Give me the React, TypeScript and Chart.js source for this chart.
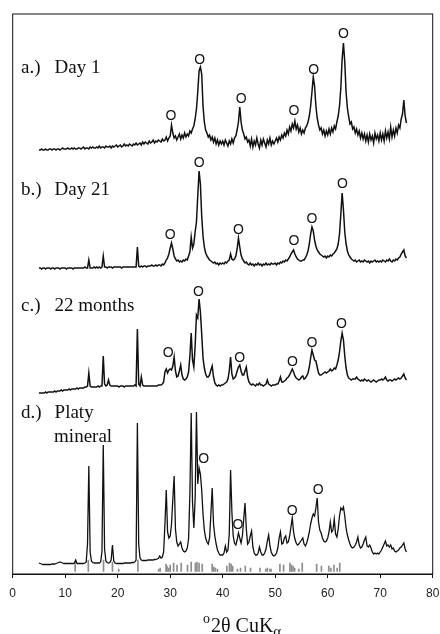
import React, { useEffect, useRef } from 'react';
import { Chart, registerables } from 'chart.js';

Chart.register(...registerables);

// 2θ sampling positions (degrees), 0.25° steps
const twoTheta = [
  5, 5.25, 5.5, 5.75, 6, 6.25, 6.5, 6.75, 7, 7.25, 7.5, 7.75, 8, 8.25, 8.5, 8.75, 9, 9.25, 9.5, 9.75,
  10, 10.25, 10.5, 10.75, 11, 11.25, 11.5, 11.75, 12, 12.25, 12.5, 12.75, 13, 13.25, 13.5, 13.75, 14, 14.25, 14.5, 14.75,
  15, 15.25, 15.5, 15.75, 16, 16.25, 16.5, 16.75, 17, 17.25, 17.5, 17.75, 18, 18.25, 18.5, 18.75, 19, 19.25, 19.5, 19.75,
  20, 20.25, 20.5, 20.75, 21, 21.25, 21.5, 21.75, 22, 22.25, 22.5, 22.75, 23, 23.25, 23.5, 23.75, 24, 24.25, 24.5, 24.75,
  25, 25.25, 25.5, 25.75, 26, 26.25, 26.5, 26.75, 27, 27.25, 27.5, 27.75, 28, 28.25, 28.5, 28.75, 29, 29.25, 29.5, 29.75,
  30, 30.25, 30.5, 30.75, 31, 31.25, 31.5, 31.75, 32, 32.25, 32.5, 32.75, 33, 33.25, 33.5, 33.75, 34, 34.25, 34.5, 34.75,
  35, 35.25, 35.5, 35.75, 36, 36.25, 36.5, 36.75, 37, 37.25, 37.5, 37.75, 38, 38.25, 38.5, 38.75, 39, 39.25, 39.5, 39.75,
  40, 40.25, 40.5, 40.75, 41, 41.25, 41.5, 41.75, 42, 42.25, 42.5, 42.75, 43, 43.25, 43.5, 43.75, 44, 44.25, 44.5, 44.75,
  45, 45.25, 45.5, 45.75, 46, 46.25, 46.5, 46.75, 47, 47.25, 47.5, 47.75, 48, 48.25, 48.5, 48.75, 49, 49.25, 49.5, 49.75,
  50, 50.25, 50.5, 50.75, 51, 51.25, 51.5, 51.75, 52, 52.25, 52.5, 52.75, 53, 53.25, 53.5, 53.75, 54, 54.25, 54.5, 54.75,
  55, 55.25, 55.5, 55.75, 56, 56.25, 56.5, 56.75, 57, 57.25, 57.5, 57.75, 58, 58.25, 58.5, 58.75, 59, 59.25, 59.5, 59.75,
  60, 60.25, 60.5, 60.75, 61, 61.25, 61.5, 61.75, 62, 62.25, 62.5, 62.75, 63, 63.25, 63.5, 63.75, 64, 64.25, 64.5, 64.75,
  65, 65.25, 65.5, 65.75, 66, 66.25, 66.5, 66.75, 67, 67.25, 67.5, 67.75, 68, 68.25, 68.5, 68.75, 69, 69.25, 69.5, 69.75,
  70, 70.25, 70.5, 70.75, 71, 71.25, 71.5, 71.75, 72, 72.25, 72.5, 72.75, 73, 73.25, 73.5, 73.75, 74, 74.25, 74.5, 74.75,
  75,
];

// Offset intensities (arbitrary units, stacked traces)
const dayOne = [
  424, 424, 425, 424, 424, 425, 424, 424, 425, 425, 424, 425, 425, 424, 425, 425, 424, 425, 426, 425,
  425, 425, 426, 425, 425, 426, 425, 426, 425, 425, 426, 426, 425, 426, 427, 425, 426, 426, 425, 427,
  426, 427, 426, 426, 427, 426, 428, 426, 427, 427, 426, 428, 427, 427, 428, 426, 428, 427, 428, 429,
  427, 428, 429, 427, 428, 430, 428, 429, 428, 430, 429, 428, 430, 429, 431, 429, 430, 431, 429, 432,
  430, 432, 431, 430, 433, 431, 432, 434, 431, 433, 432, 434, 433, 432, 435, 433, 434, 437, 433, 436,
  438, 449, 441, 436, 438, 434, 437, 440, 435, 439, 436, 441, 437, 440, 438, 443, 441, 445, 448, 455,
  465, 482, 503, 507, 500, 468, 452, 444, 441, 437, 439, 434, 437, 432, 436, 430, 434, 429, 433, 430,
  433, 429, 434, 431, 428, 433, 430, 435, 431, 436, 438, 444, 452, 467, 452, 444, 440, 435, 437, 432,
  434, 428, 435, 427, 433, 429, 436, 430, 426, 434, 429, 435, 431, 427, 434, 430, 436, 429, 433, 430,
  433, 436, 432, 437, 434, 439, 436, 441, 438, 444, 440, 447, 443, 450, 446, 453, 445, 449, 442, 446,
  440, 444, 441, 446, 448, 452, 458, 468, 482, 497, 488, 468, 456, 449, 444, 446, 440, 444, 438, 443,
  439, 445, 440, 446, 442, 448, 445, 452, 458, 468, 486, 515, 531, 512, 482, 466, 457, 450, 452, 445,
  447, 441, 445, 439, 443, 436, 441, 435, 440, 433, 439, 432, 440, 434, 438, 431, 441, 435, 439, 433,
  441, 434, 440, 433, 443, 436, 442, 435, 447, 437, 444, 438, 446, 441, 449, 446, 455, 460, 474, 458,
  451,
];

const dayTwentyOne = [
  306, 306, 305, 306, 306, 305, 306, 306, 306, 305, 306, 306, 305, 306, 306, 306, 305, 306, 306, 306,
  306, 305, 306, 306, 306, 306, 305, 306, 306, 306, 306, 306, 306, 306, 306, 307, 306, 306, 314, 306,
  306, 306, 307, 306, 307, 306, 307, 306, 307, 318, 307, 307, 306, 307, 307, 307, 306, 307, 307, 307,
  307, 307, 307, 306, 307, 307, 307, 307, 307, 307, 307, 307, 307, 307, 307, 327, 308, 307, 308, 307,
  308, 308, 307, 308, 308, 308, 309, 308, 308, 309, 308, 309, 309, 308, 310, 309, 311, 314, 316, 320,
  326, 331, 325, 318, 315, 313, 314, 312, 313, 312, 314, 313, 315, 314, 318, 322, 337, 326, 330, 342,
  352, 378, 403, 390, 358, 338, 327, 321, 318, 316, 314, 313, 312, 311, 312, 310, 311, 309, 311, 310,
  311, 310, 312, 311, 313, 314, 320, 315, 314, 315, 318, 325, 336, 327, 319, 315, 313, 311, 312, 310,
  309, 311, 309, 310, 308, 310, 309, 311, 309, 310, 308, 310, 309, 311, 309, 310, 309, 311, 310, 310,
  311, 309, 311, 310, 312, 311, 313, 312, 314, 313, 315, 317, 320, 322, 324, 320, 317, 315, 314, 313,
  313, 314, 314, 316, 319, 323, 330, 340, 347, 343, 334, 328, 324, 322, 320, 319, 318, 317, 318, 316,
  318, 317, 319, 318, 320, 321, 323, 325, 330, 340, 360, 381, 364, 342, 330, 323, 319, 317, 315, 314,
  313, 314, 312, 313, 314, 312, 313, 312, 314, 313, 312, 313, 311, 313, 312, 313, 314, 312, 313, 312,
  313, 312, 314, 313, 312, 314, 313, 315, 313, 312, 314, 313, 315, 314, 316, 317, 320, 322, 324, 318,
  316,
];

const twentyTwoMonths = [
  181, 181, 181, 181, 181, 182, 181, 182, 182, 182, 182, 182, 183, 182, 183, 183, 183, 184, 183, 184,
  184, 184, 184, 185, 184, 185, 185, 185, 185, 186, 185, 186, 186, 186, 186, 187, 187, 188, 201, 188,
  187, 187, 187, 187, 187, 188, 187, 188, 188, 218, 190, 188, 189, 194, 189, 188, 188, 188, 188, 188,
  188, 187, 188, 188, 188, 187, 188, 188, 188, 188, 188, 188, 188, 189, 188, 245, 190, 188, 197, 189,
  188, 188, 188, 188, 188, 188, 188, 188, 188, 188, 188, 189, 189, 189, 190, 192, 202, 205, 201, 204,
  205, 204, 208, 217, 203, 197, 198, 203, 209, 199, 195, 194, 195, 197, 202, 218, 241, 214, 207, 228,
  259, 256, 275, 262, 240, 216, 206, 200, 197, 197, 199, 204, 208, 197, 191, 189, 188, 189, 188, 189,
  189, 190, 191, 192, 195, 203, 217, 200, 195, 196, 198, 203, 207, 209, 203, 199, 199, 203, 207, 197,
  192, 190, 189, 190, 189, 188, 190, 189, 191, 189, 189, 188, 189, 190, 194, 190, 189, 188, 189, 189,
  189, 190, 190, 193, 197, 192, 192, 193, 194, 196, 197, 199, 202, 205, 202, 198, 196, 195, 194, 195,
  197, 198, 195, 196, 198, 201, 207, 216, 224, 219, 214, 213, 207, 201, 199, 199, 200, 201, 202, 201,
  202, 203, 205, 203, 204, 206, 205, 209, 214, 222, 233, 241, 234, 218, 206, 199, 196, 195, 194, 195,
  195, 195, 197, 195, 194, 193, 194, 193, 195, 194, 193, 194, 193, 192, 193, 194, 193, 192, 193, 194,
  194, 195, 194, 195, 197, 194, 193, 194, 194, 193, 194, 195, 194, 195, 196, 195, 196, 198, 200, 196,
  194,
];

const platyMineral = [
  11, 10.5, 10, 9.5, 9.5, 9.5, 9.5, 9.5, 9.5, 9.5, 10, 10, 10, 10.5, 11, 11.5, 12, 11.5, 11, 10.5,
  10.5, 10.5, 10.5, 10.5, 10.5, 10.5, 10.5, 11, 14, 10.5, 10.5, 10.5, 10.5, 10.5, 10.5, 11, 12, 30, 108, 22,
  13, 11.5, 11, 11, 11, 11, 11, 12, 22, 129, 25, 13, 11.5, 11, 11.5, 14, 29, 13, 11, 10.5,
  10.5, 10.5, 10.5, 10.5, 10.5, 11, 11, 11, 11, 11, 11, 11.5, 11.5, 12, 14, 151, 30, 16, 14, 13.5,
  13.5, 13.5, 13.5, 14, 14, 14, 14, 14, 14.5, 14.5, 15, 15.5, 18, 16, 17, 22, 50, 84, 42, 36,
  38, 50, 75, 98, 45, 32, 28, 30, 32, 26, 23, 22, 23, 26, 35, 80, 161, 72, 46, 75,
  162, 90, 106, 100, 84, 60, 44, 36, 32, 30, 36, 60, 86, 50, 38, 30, 24, 21, 19, 19,
  19, 21, 28, 22, 24, 40, 104, 62, 38, 31, 29, 34, 41, 36, 31, 38, 55, 71, 45, 30,
  32, 38, 43, 27, 21, 19, 19, 21, 27, 22, 19, 19, 21, 25, 33, 39, 28, 22, 19, 18,
  19, 21, 26, 36, 42, 30, 31, 36, 38, 31, 32, 38, 47, 56, 42, 35, 31, 29, 30, 32,
  34, 36, 30, 28, 31, 36, 42, 50, 56, 60, 58, 66, 76, 52, 44, 41, 36, 33, 32, 33,
  36, 42, 52, 42, 44, 55, 40, 37, 45, 58, 66, 64, 67, 58, 46, 39, 34, 30, 27, 26,
  27, 29, 32, 37, 29, 26, 27, 30, 34, 37, 28, 27, 29, 26, 22, 20, 21, 20, 21, 20,
  22, 24, 27, 30, 33, 28, 29, 27, 29, 25, 26, 23, 22, 23, 24, 26, 27, 29, 31, 25,
  22,
];

// Reference pattern stick lines (2θ and relative height)
const refStickTheta = [
  11.9, 14.4, 17.3, 19.0, 20.2, 23.85, 27.8, 28.1, 29.2, 29.4, 29.7, 30.0, 30.65, 31.3, 32.1, 33.3, 34.0, 34.8, 35.1, 35.5,
  36.1, 38.0, 38.3, 38.6, 39.0, 40.8, 41.3, 41.6, 41.9, 42.8, 43.4, 44.3, 45.3, 47.1, 48.2, 48.5, 49.0, 49.2, 50.9, 51.6,
  52.8, 53.1, 53.4, 53.7, 54.5, 55.15, 57.9, 58.8, 60.2, 60.6, 61.2, 61.8, 62.3,
];
const refStickTop = [
  12, 14, 14, 12, 5, 14, 5, 6, 10, 8, 6, 9, 11, 9, 11, 9, 12, 11, 12, 11,
  10, 10, 7, 6, 5, 8, 11, 10, 8, 5, 6, 8, 6, 6, 5, 6, 5, 5, 10, 9,
  11, 9, 8, 6, 5, 11, 10, 8, 8, 6, 9, 6, 11,
];
const refStickBase = 2.5;

// Peak markers "O" (2θ, level)
const markerTheta = [
  30.15, 35.6, 43.5, 53.55, 57.35, 63.0,
  30.0, 35.5, 43.0, 53.55, 57.0, 62.8,
  29.6, 35.4, 43.25, 53.3, 57.0, 62.6,
  36.4, 42.9, 53.25, 58.2,
];
const markerLevel = [
  459, 514.7, 476.3, 464, 505, 540.7,
  339.7, 412.3, 344.7, 334, 356.3, 390.7,
  222.3, 283, 217.3, 213, 232.3, 250.7,
  115.7, 49.7, 64, 84.7,
];

// Panel labels
const panelPrefix = ['a.)', 'b.)', 'c.)', 'd.)'];
const panelName = ['Day 1', 'Day 21', '22 months', 'Platy'];
const panelLevel = [501.3, 379, 263.3, 155.7];
const panelExtra = 'mineral';
const panelExtraLevel = 132.3;

const xTitleMain = '2θ CuK';
const xTitleSup = 'o';
const xTitleSub = 'α';

const SERIF = '"Liberation Serif", "Times New Roman", serif';
const SANS = '"Liberation Sans", Arial, sans-serif';

export default function App() {
  const ref = useRef<HTMLCanvasElement>(null);

  useEffect(() => {
    const canvas = ref.current;
    if (!canvas) return;
    const toPts = (ys: number[]) => ys.map((y, i) => ({ x: twoTheta[i], y }));
    const trace = {
      borderColor: '#111',
      borderWidth: 1.5,
      pointRadius: 0,
      tension: 0,
      fill: false,
      order: 1,
    };

    const framePlugin = {
      id: 'frame',
      afterDatasetsDraw(chart: any) {
        const { ctx, chartArea, scales } = chart;
        const x = scales.x;
        const y = scales.y;
        ctx.save();
        ctx.strokeStyle = '#111';
        ctx.lineWidth = 1;
        ctx.strokeRect(chartArea.left, chartArea.top, chartArea.right - chartArea.left, chartArea.bottom - chartArea.top);
        ctx.fillStyle = '#111';
        ctx.font = `14px ${SANS}`;
        ctx.textAlign = 'center';
        ctx.textBaseline = 'alphabetic';
        for (let i = 0; i < markerTheta.length; i++) {
          const px = x.getPixelForValue(markerTheta[i]);
          const py = y.getPixelForValue(markerLevel[i]);
          ctx.fillText('O', px, py + 5);
        }
        ctx.textAlign = 'left';
        ctx.font = `19px ${SERIF}`;
        const prefX = x.getPixelForValue(1.58);
        const nameX = x.getPixelForValue(7.98);
        for (let i = 0; i < panelPrefix.length; i++) {
          const py = y.getPixelForValue(panelLevel[i]);
          ctx.fillText(panelPrefix[i], prefX, py);
          ctx.fillText(panelName[i], nameX, py);
        }
        ctx.fillText(panelExtra, nameX - 0.5, y.getPixelForValue(panelExtraLevel));
        ctx.restore();
      },
      afterDraw(chart: any) {
        const { ctx } = chart;
        ctx.save();
        ctx.fillStyle = '#111';
        ctx.textAlign = 'left';
        ctx.textBaseline = 'alphabetic';
        const startX = 203;
        const base = 632;
        ctx.font = `14px ${SERIF}`;
        ctx.fillText(xTitleSup, startX, base - 9);
        const supW = ctx.measureText(xTitleSup).width;
        ctx.font = `20px ${SERIF}`;
        ctx.fillText(xTitleMain, startX + supW + 1, base);
        const mainW = ctx.measureText(xTitleMain).width;
        ctx.font = `15px ${SERIF}`;
        ctx.fillText(xTitleSub, startX + supW + 1 + mainW, base + 4);
        ctx.restore();
      },
    };

    const chart = new Chart(canvas, {
      type: 'line',
      data: {
        datasets: [
          { ...trace, label: 'Day 1', data: toPts(dayOne) },
          { ...trace, label: 'Day 21', data: toPts(dayTwentyOne) },
          { ...trace, label: '22 months', data: toPts(twentyTwoMonths) },
          { ...trace, label: 'Platy mineral', borderWidth: 1.3, data: toPts(platyMineral) },
          {
            type: 'bar',
            label: 'Reference',
            data: refStickTheta.map((t, i) => ({ x: t, y: [refStickBase, refStickTop[i]] })),
            backgroundColor: '#8c8c8c',
            borderWidth: 0,
            barThickness: 1,
            order: 5,
          } as any,
        ],
      },
      options: {
        responsive: false,
        animation: false,
        devicePixelRatio: 1,
        layout: { padding: { left: 12.7, top: 14, right: 7.3, bottom: 0 } },
        plugins: {
          legend: { display: false },
          tooltip: { enabled: false },
          title: { display: false },
        },
        scales: {
          x: {
            type: 'linear',
            min: 0,
            max: 80,
            offset: false,
            afterFit: (s: any) => {
              s.height = 60;
              s.paddingLeft = 0;
              s.paddingRight = 0;
            },
            ticks: {
              stepSize: 10,
              padding: 8,
              color: '#222',
              maxRotation: 0,
              autoSkip: false,
              font: { family: SANS, size: 12 },
            },
            grid: { offset: false, drawOnChartArea: false, drawTicks: true, tickLength: 4, color: '#111' },
            border: { display: true, color: '#111', width: 1 },
          },
          y: { display: false, min: 0, max: 560 },
        },
      },
      plugins: [framePlugin],
    });
    return () => chart.destroy();
  }, []);

  return (
    <div style={{ position: 'absolute', left: 0, top: 0, width: 440, height: 634, background: '#fff' }}>
      <canvas ref={ref} width={440} height={634} style={{ display: 'block' }} />
    </div>
  );
}
